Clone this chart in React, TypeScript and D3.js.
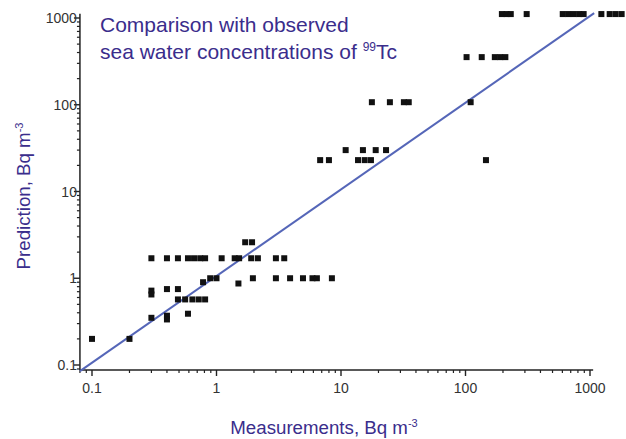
import React from "react";
import * as d3 from "d3";

const measured = [
  0.1, 0.2,
  0.3, 0.4, 0.49, 0.59, 0.66, 0.74, 0.81, 1.1, 1.4, 1.52, 1.9, 2.15, 3.0, 3.5,
  1.7, 1.93,
  0.89, 1.0, 1.96, 3.0, 3.9, 4.95, 5.9, 6.4, 8.45,
  1.5, 0.78,
  0.3, 0.4, 0.49,
  0.3,
  0.49, 0.56, 0.64, 0.72, 0.81,
  0.59,
  0.3, 0.4, 0.4,
  6.8, 8.0, 13.7, 15.5, 17.4, 146,
  10.9, 15, 19, 23,
  17.7, 24.7, 32, 35, 110,
  102, 135, 172, 190, 209,
  196, 214, 231, 310, 604, 668, 740, 819, 889, 1234, 1439, 1607, 1795,
];
const predicted = [
  0.2, 0.2,
  1.7, 1.7, 1.7, 1.7, 1.7, 1.7, 1.7, 1.7, 1.7, 1.7, 1.7, 1.7, 1.7, 1.7,
  2.6, 2.6,
  1.0, 1.0, 1.0, 1.0, 1.0, 1.0, 1.0, 1.0, 1.0,
  0.87, 0.9,
  0.72, 0.75, 0.75,
  0.65,
  0.57, 0.57, 0.57, 0.57, 0.57,
  0.39,
  0.35, 0.37, 0.335,
  23, 23, 23, 23, 23, 23,
  30, 30, 30, 30,
  107, 107, 107, 107, 107,
  354, 354, 354, 354, 354,
  1110, 1110, 1110, 1110, 1110, 1110, 1110, 1110, 1110, 1110, 1110, 1110, 1110,
];
const tickValues = [0.1, 1, 10, 100, 1000];
const tickLabels = ["0.1", "1", "10", "100", "1000"];
const lineMeasured = [0.08, 1080];
const linePredicted = [0.085, 1140];
const xExtent = [0.08, 1060];
const yExtent = [0.0876, 1120];

export default function App() {
  const W = 626, H = 439;
  const x = d3.scaleLog().domain([0.1, 1000]).range([92, 590]);
  const y = d3.scaleLog().domain([0.1, 1000]).range([365, 18]);
  const minor: number[] = [];
  for (let e = -2; e <= 3; e++) {
    for (let m = 2; m <= 9; m++) {
      minor.push(m * Math.pow(10, e));
    }
  }
  const xMinor = minor.filter((v) => v >= xExtent[0] && v <= xExtent[1]);
  const yMinor = minor.filter((v) => v >= yExtent[0] && v <= yExtent[1]);
  const x0 = x(xExtent[0]);
  const y0 = y(yExtent[0]);
  const axisColor = "#222";
  const textColor = "#3a2d8c";
  const font = "'Liberation Sans', Arial, sans-serif";
  const line = d3
    .line<number>()
    .x((_, i) => x(lineMeasured[i]))
    .y((_, i) => y(linePredicted[i]));
  return (
    <svg width={W} height={H} style={{ position: "absolute", left: 0, top: 0, background: "#fff" }} fontFamily={font}>
      <rect width={W} height={H} fill="#fff" />
      <line x1={x0} x2={x(xExtent[1])} y1={y0} y2={y0} stroke={axisColor} strokeWidth={1.5} />
      <line x1={x0} x2={x0} y1={y0} y2={y(yExtent[1])} stroke={axisColor} strokeWidth={1.5} />
      {xMinor.map((v, i) => (
        <line key={"xm" + i} x1={x(v)} x2={x(v)} y1={y0} y2={y0 + 3} stroke={axisColor} strokeWidth={1.2} />
      ))}
      {yMinor.map((v, i) => (
        <line key={"ym" + i} x1={x0} x2={x0 - 3} y1={y(v)} y2={y(v)} stroke={axisColor} strokeWidth={1.2} />
      ))}
      {tickValues.map((v, i) => (
        <g key={"xt" + i}>
          <line x1={x(v)} x2={x(v)} y1={y0} y2={y0 + 6} stroke={axisColor} strokeWidth={1.4} />
          <text x={x(v)} y={393} textAnchor="middle" fontSize={14} fill="#333">{tickLabels[i]}</text>
        </g>
      ))}
      {tickValues.map((v, i) => (
        <g key={"yt" + i}>
          <line x1={x0} x2={x0 - 6} y1={y(v)} y2={y(v)} stroke={axisColor} strokeWidth={1.4} />
          <text x={x0 - 3} y={y(v) + 5} textAnchor="end" fontSize={14} fill="#333">{tickLabels[i]}</text>
        </g>
      ))}
      <path d={line(lineMeasured) || ""} fill="none" stroke="#5566b8" strokeWidth={2} />
      {measured.map((m, i) => (
        <rect key={"p" + i} x={x(m) - 3} y={y(predicted[i]) - 3} width={6} height={6} fill="#111" />
      ))}
      <text x={100} y={32} fontSize={21} fill={textColor}>Comparison with observed</text>
      <text x={100} y={59} fontSize={21} fill={textColor}>
        sea water concentrations of <tspan fontSize={12} dy={-8}>99</tspan><tspan dy={8}>Tc</tspan>
      </text>
      <text x={324} y={434} textAnchor="middle" fontSize={18.7} fill={textColor}>
        Measurements, Bq m<tspan fontSize={11} dy={-7}>-3</tspan>
      </text>
      <text transform="translate(30,196) rotate(-90)" textAnchor="middle" fontSize={18.7} fill={textColor}>
        Prediction, Bq m<tspan fontSize={11} dy={-7}>-3</tspan>
      </text>
    </svg>
  );
}
